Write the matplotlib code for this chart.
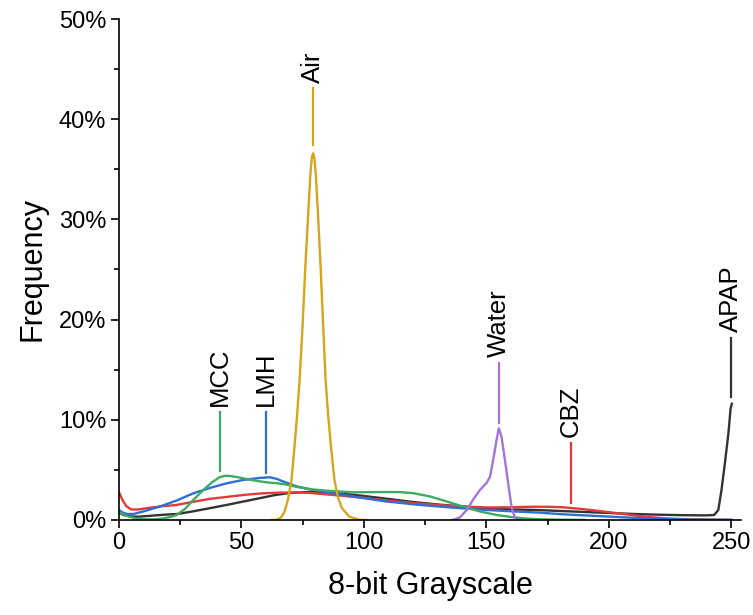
import matplotlib
matplotlib.use("Agg")
import matplotlib.pyplot as plt
from matplotlib.ticker import MultipleLocator

plt.rcParams['font.family'] = ['Liberation Sans', 'DejaVu Sans']

# Grayscale histograms (frequency in %) for each phase
apap_x = [0, 2, 5, 8, 12, 16, 20, 24, 30, 37, 44, 51, 58, 64, 70, 78, 85, 92, 100,
          110, 120, 130, 140, 150, 160, 170, 180, 190, 200, 210, 220, 230, 240,
          243, 244.7, 246, 247.4, 248.8, 249.7, 250.2]
apap_y = [0.75, 0.5, 0.35, 0.33, 0.4, 0.48, 0.55, 0.6, 0.85, 1.17, 1.5, 1.85, 2.2, 2.5, 2.7, 2.8, 2.75, 2.6, 2.4,
          2.1, 1.8, 1.55, 1.35, 1.18, 1.05, 1.0, 0.9, 0.8, 0.7, 0.6, 0.53, 0.48, 0.46,
          0.5, 1.0, 3.0, 5.7, 8.6, 11.1, 11.6]

cbz_x = [0, 1.5, 3, 5, 8, 12, 17, 23.6, 30, 37, 44, 51, 58, 64, 72, 78, 85, 92, 100,
         110, 120, 130, 140, 150, 160, 168, 175, 181, 188, 195, 202, 209, 215, 222,
         229, 236, 243, 250]
cbz_y = [2.8, 2.0, 1.4, 1.05, 1.05, 1.2, 1.35, 1.5, 1.8, 2.1, 2.3, 2.5, 2.65, 2.72, 2.75, 2.7, 2.55, 2.4, 2.2,
         1.93, 1.7, 1.5, 1.35, 1.25, 1.27, 1.32, 1.32, 1.27, 1.12, 0.93, 0.72, 0.5, 0.32, 0.18,
         0.1, 0.06, 0.03, 0.02]

lmh_x = [0, 1.5, 3.2, 6, 10, 16.8, 23.6, 30.4, 37.2, 44, 50.8, 57.6, 61.7, 64.5, 67, 72.6, 79, 86,
         95.7, 109, 123, 136.5, 150, 164, 172, 181, 195, 209, 222, 236, 250]
lmh_y = [1.0, 0.75, 0.6, 0.6, 0.85, 1.35, 1.94, 2.66, 3.2, 3.66, 4.0, 4.2, 4.26, 4.1, 3.85, 3.35, 3.0, 2.72,
         2.35, 1.85, 1.5, 1.23, 1.0, 0.82, 0.73, 0.57, 0.4, 0.23, 0.1, 0.03, 0.01]

mcc_x = [0, 2, 4, 7, 10, 14, 18, 21, 23.6, 27, 30.4, 34.5, 38, 41, 43, 45, 48, 50.8, 54, 57.6,
         61.7, 64.4, 68, 72.6, 79, 86, 95.7, 109, 115, 120, 127, 133.8, 140.6, 147.4,
         154.2, 161, 166, 172, 180, 190]
mcc_y = [0.8, 0.55, 0.35, 0.15, 0.07, 0.06, 0.15, 0.3, 0.5, 1.1, 2.0, 3.0, 3.75, 4.25, 4.4, 4.4, 4.3, 4.15, 4.0, 3.85,
         3.72, 3.68, 3.55, 3.3, 3.05, 2.9, 2.76, 2.79, 2.78, 2.68, 2.35, 1.85, 1.33, 0.85,
         0.5, 0.27, 0.15, 0.07, 0.03, 0.01]

water_x = [136, 137, 139.3, 142, 144.7, 147.4, 150.1, 151.5, 152.8, 154.2, 155.1, 156.2,
           157.6, 158.9, 160.3, 161.6, 163, 164]
water_y = [0, 0.05, 0.27, 1.0, 2.06, 3.0, 3.7, 4.3, 6.0, 8.0, 9.15, 8.3,
           6.0, 3.7, 1.3, 0.27, 0.02, 0]

air_x = [62, 64.4, 66.2, 67.6, 69.0, 70.5, 71.7, 72.8, 73.8, 74.9, 76.2, 77.4, 78.2, 78.8, 79.3,
         79.8, 80.4, 81.2, 82.3, 83.5, 84.4, 85.4, 86.6, 88.0, 89.4, 91, 94, 98, 101]
air_y = [0, 0.02, 0.25, 0.8, 2.0, 4.0, 7.3, 10.6, 14.0, 18.9, 25.6, 31.0, 34.5, 36.2, 36.6,
         36.2, 34.5, 31.0, 25.6, 18.9, 14.0, 10.6, 7.3, 4.0, 2.3, 1.2, 0.35, 0.03, 0]

# Phase labels: name, x position, leader line bottom/top (%)
label_names = ["MCC", "LMH", "Air", "Water", "CBZ", "APAP"]
label_x = [41.3, 60.1, 79.3, 155.1, 184.6, 250.0]
label_lo = [4.9, 4.7, 37.4, 9.7, 1.7, 12.3]
label_hi = [10.8, 10.8, 43.1, 15.7, 7.7, 18.2]

x_ticks = [0, 50, 100, 150, 200, 250]
y_ticks = [0, 10, 20, 30, 40, 50]
y_tick_labels = ["0%", "10%", "20%", "30%", "40%", "50%"]

colors = {
    "APAP": "#333333",
    "CBZ": "#E23B3B",
    "LMH": "#2F6FD4",
    "MCC": "#3DAA5F",
    "Water": "#A673DB",
    "Air": "#D6A51C",
}

fig = plt.figure(figsize=(7.53, 6.15), dpi=100)
ax = fig.add_axes([0.1578, 0.1545, 0.8264, 0.8146])

lw = 1.7
ax.plot(apap_x, apap_y, color=colors["APAP"], lw=lw, solid_joinstyle='round')
ax.plot(cbz_x, cbz_y, color=colors["CBZ"], lw=lw, solid_joinstyle='round')
ax.plot(lmh_x, lmh_y, color=colors["LMH"], lw=lw, solid_joinstyle='round')
ax.plot(mcc_x, mcc_y, color=colors["MCC"], lw=lw, solid_joinstyle='round')
ax.plot(water_x, water_y, color=colors["Water"], lw=lw, solid_joinstyle='round')
ax.plot(air_x, air_y, color=colors["Air"], lw=lw, solid_joinstyle='round')

for name, lx, lo, hi in zip(label_names, label_x, label_lo, label_hi):
    ax.plot([lx, lx], [lo, hi], color=colors[name], lw=1.6)
    ax.annotate(name, xy=(lx, hi), xytext=(0, 4), textcoords='offset points',
                rotation=90, ha='center', va='bottom', fontsize=18.5, color='black')

ax.set_xlim(0, 254)
ax.set_ylim(0, 50)
ax.set_xticks(x_ticks)
ax.set_yticks(y_ticks)
ax.set_yticklabels(y_tick_labels)
ax.xaxis.set_minor_locator(MultipleLocator(25))
ax.yaxis.set_minor_locator(MultipleLocator(5))

for side in ("top", "right"):
    ax.spines[side].set_visible(False)
for side in ("left", "bottom"):
    ax.spines[side].set_linewidth(1.2)
    ax.spines[side].set_color("black")

ax.tick_params(axis='both', which='major', direction='out', length=6, width=1.2,
               labelsize=17, pad=3)
ax.tick_params(axis='both', which='minor', direction='out', length=3.5, width=1.2)

ax.set_xlabel("8-bit Grayscale", fontsize=22, labelpad=12)
ax.set_ylabel("Frequency", fontsize=22, labelpad=8)

fig.savefig("out.png", dpi=100)
